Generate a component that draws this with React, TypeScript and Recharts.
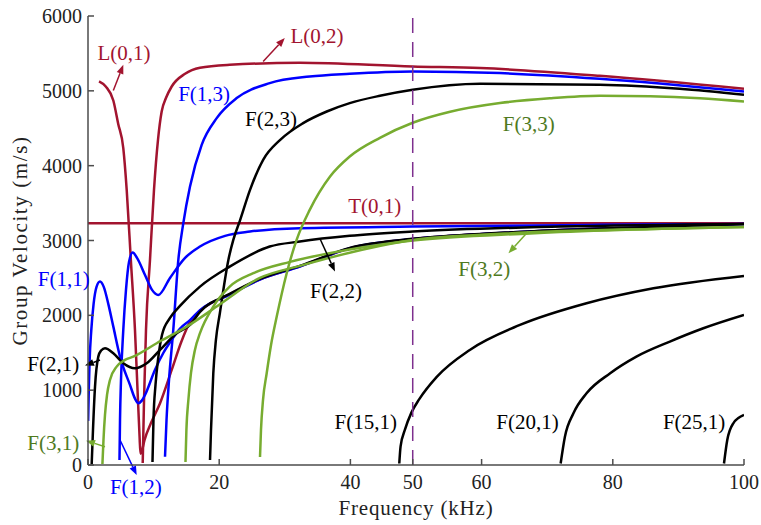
import { LineChart, Line, XAxis, YAxis, ReferenceLine, ReferenceDot } from 'recharts';

// dispersion curves, [frequency kHz, group velocity m/s]
const L01 = [[1.68, 5125], [2.74, 5054], [3.86, 4871], [4.6, 4560], [5.38, 4234], [5.9, 3677], [6.53, 2741], [7.16, 1805], [7.55, 1003], [7.85, 400], [8.0, 150], [8.15, 170], [8.6, 330], [9.6, 560], [10.98, 825], [12.76, 1270], [14.2, 1640], [15.55, 1912], [17.07, 2059], [21.6, 2280], [26.2, 2480], [32.3, 2655], [39.9, 2895], [49.5, 3018], [62.8, 3098], [72, 3140], [85.7, 3178], [100, 3220]];
const L02 = [[8.34, 27], [8.54, 869], [8.84, 1805], [9.45, 2741], [10.06, 3677], [10.67, 4345], [11.23, 4724], [11.9, 4907], [12.76, 5058], [14.8, 5228], [17.07, 5308], [21.6, 5348], [32.3, 5375], [49.5, 5325], [59.8, 5304], [78, 5200], [100, 5027]];
const T01 = [[0, 3230], [100, 3230]];
const F11 = [[0.02, 590], [0.12, 1000], [0.25, 1400], [0.5, 1800], [0.85, 2150], [1.3, 2380], [1.83, 2451], [2.4, 2380], [3.1, 2150], [3.86, 1849], [4.88, 1448], [6.4, 1070], [7.2, 880], [7.67, 825], [8.2, 860], [8.69, 936], [10.2, 1270], [11.5, 1500], [12.5, 1640], [14, 1820], [15.55, 1935], [17.07, 2070], [21.6, 2276], [26.2, 2478], [32.3, 2652], [39.9, 2898], [49.5, 3020], [62.8, 3100], [72, 3142], [85.7, 3180], [100, 3221]];
const F12 = [[4.8, 67], [4.88, 602], [5.03, 1136], [5.38, 1805], [5.79, 2340], [6.25, 2714], [6.81, 2838], [7.47, 2768], [8.69, 2540], [9.76, 2340], [10.72, 2273], [12.5, 2500], [14.8, 2768], [17.07, 2919], [20.9, 3062], [24.7, 3119], [32.3, 3165], [49.5, 3186], [78, 3209], [100, 3222]];
const F13 = [[11.74, 111], [11.97, 602], [12.35, 1136], [13.0, 1805], [13.77, 2741], [14.53, 3232], [15.55, 3721], [17.33, 4278], [19.62, 4635], [22.67, 4903], [27.7, 5103], [33.8, 5191], [39.9, 5228], [49.5, 5258], [62.8, 5237], [78, 5161], [100, 4991]];
const F21 = [[0.56, 10], [0.76, 468], [1.07, 1047], [1.57, 1448], [2.0, 1530], [2.59, 1560], [3.86, 1493], [5.38, 1360], [7.16, 1293], [8.95, 1360], [10.98, 1538], [13.52, 1761], [15.55, 1872], [17.07, 2046], [21.6, 2286], [26.2, 2487], [32.3, 2661], [39.9, 2901], [49.5, 3022], [62.8, 3102], [85.7, 3182], [100, 3222]];
const F22 = [[9.83, 40], [9.98, 602], [10.29, 1070], [10.67, 1404], [11.28, 1738], [12.5, 1965], [14.02, 2126], [17.07, 2384], [21.6, 2651], [27.7, 2919], [32.3, 2986], [39.9, 3062], [49.5, 3119], [72, 3186], [100, 3222]];
const F23 = [[18.6, 67], [18.75, 468], [19.1, 1226], [19.5, 1671], [20.1, 2028], [21.4, 2741], [22.15, 3008], [23.2, 3276], [24.7, 3677], [26.7, 4078], [29.3, 4345], [32.8, 4569], [36.4, 4724], [39.9, 4836], [44.5, 4934], [49.5, 5014], [59.8, 5094], [78, 5081], [90.2, 5027], [100, 4947]];
const F31 = [[2.2, 13], [2.36, 334], [2.59, 669], [2.9, 936], [3.35, 1136], [4.37, 1314], [5.64, 1404], [6.9, 1448], [10.47, 1627], [15.05, 1849], [19.62, 2117], [26.2, 2500], [32.3, 2661], [49.5, 3008], [62.8, 3089], [85.7, 3155], [100, 3182]];
const F32 = [[14.86, 40], [15.0, 468], [15.3, 869], [15.7, 1230], [16.3, 1538], [17.07, 1761], [19.1, 2117], [21.6, 2384], [25.2, 2563], [30.8, 2714], [39.9, 2880], [49.5, 3000], [67.4, 3095], [100, 3180]];
const F33 = [[26.22, 107], [26.37, 468], [26.68, 869], [27.24, 1226], [27.9, 1604], [28.77, 1983], [30.29, 2563], [31.8, 3008], [33.8, 3409], [36.9, 3855], [39.9, 4122], [44.5, 4372], [49.5, 4573], [55.2, 4720], [62.8, 4836], [70.4, 4900], [78, 4934], [85.7, 4927], [93.3, 4900], [100, 4857]];
const F151 = [[47.45, 20], [47.65, 250], [48.3, 468], [49.3, 700], [50.5, 880], [53.2, 1181], [58.2, 1538], [65.85, 1872], [76, 2162], [86.2, 2362], [100, 2527]];
const F201 = [[72.05, 20], [72.7, 378], [74, 691], [76, 958], [79.6, 1226], [83.6, 1448], [88.7, 1649], [93.8, 1827], [100, 2005]];
const F251 = [[96.95, 20], [97.45, 334], [98.37, 557], [100, 668]];

const X_TICKS = [0, 20, 40, 49.5, 60, 80, 100];
const Y_TICKS = [0, 1000, 2000, 3000, 4000, 5000, 6000];
const MARKER_F = 49.5;

const FONT = '"Liberation Serif", "DejaVu Serif", serif';
const RED = '#A2142F';
const BLUE = '#0000FF';
const BLACK = '#000000';
const GREEN = '#77AC30';
const GREEN_TXT = '#4E7A1E';
const PURPLE = '#7E2F8E';

const SERIES = [
  { name: 'L01', pts: L01, color: RED },
  { name: 'L02', pts: L02, color: RED },
  { name: 'T01', pts: T01, color: RED },
  { name: 'F11', pts: F11, color: BLUE },
  { name: 'F12', pts: F12, color: BLUE },
  { name: 'F13', pts: F13, color: BLUE },
  { name: 'F21', pts: F21, color: BLACK },
  { name: 'F22', pts: F22, color: BLACK },
  { name: 'F23', pts: F23, color: BLACK },
  { name: 'F31', pts: F31, color: GREEN },
  { name: 'F32', pts: F32, color: GREEN },
  { name: 'F33', pts: F33, color: GREEN },
  { name: 'F151', pts: F151, color: BLACK },
  { name: 'F201', pts: F201, color: BLACK },
  { name: 'F251', pts: F251, color: BLACK },
];

const LABELS = [
  { text: 'L(0,1)', f: 5.5, v: 5510, color: RED },
  { text: 'L(0,2)', f: 34.9, v: 5738, color: RED },
  { text: 'F(1,3)', f: 17.7, v: 4960, color: BLUE },
  { text: 'F(2,3)', f: 27.9, v: 4626, color: BLACK },
  { text: 'F(3,3)', f: 67.2, v: 4559, color: GREEN_TXT },
  { text: 'T(0,1)', f: 43.7, v: 3463, color: RED },
  { text: 'F(1,1)', f: -3.7, v: 2487, color: BLUE },
  { text: 'F(2,2)', f: 37.8, v: 2329, color: BLACK },
  { text: 'F(3,2)', f: 60.4, v: 2620, color: GREEN_TXT },
  { text: 'F(2,1)', f: -5.3, v: 1350, color: BLACK },
  { text: 'F(3,1)', f: -5.3, v: 294, color: GREEN_TXT },
  { text: 'F(1,2)', f: 7.3, v: -294, color: BLUE },
  { text: 'F(15,1)', f: 42.35, v: 575, color: BLACK },
  { text: 'F(20,1)', f: 67.0, v: 575, color: BLACK },
  { text: 'F(25,1)', f: 92.4, v: 575, color: BLACK },
];

const ARROWS = [
  { from: [3.86, 5004], to: [5.38, 5348], color: RED },
  { from: [26.7, 5392], to: [30.0, 5705], color: RED },
  { from: [35.4, 3017], to: [37.65, 2585], color: BLACK },
  { from: [67.1, 3119], to: [64.1, 2830], color: GREEN },
  { from: [1.83, 1404], to: [-0.46, 1328], color: BLACK },
  { from: [2.59, 245], to: [-0.3, 325], color: GREEN },
  { from: [4.88, 334], to: [7.42, -134], color: BLUE },
];

const toPts = (a: number[][]) => a.map(([f, v]) => ({ f, v }));

const Arrow = (props: any) => {
  const { x1, y1, x2, y2, stroke } = props;
  const ang = Math.atan2(y2 - y1, x2 - x1);
  const len = 9;
  const w = 3.5;
  const bx = x2 - len * Math.cos(ang);
  const by = y2 - len * Math.sin(ang);
  const p1 = `${bx - w * Math.sin(ang)},${by + w * Math.cos(ang)}`;
  const p2 = `${bx + w * Math.sin(ang)},${by - w * Math.cos(ang)}`;
  return (
    <g>
      <line x1={x1} y1={y1} x2={bx} y2={by} stroke={stroke} strokeWidth={1.5} />
      <polygon points={`${x2},${y2} ${p1} ${p2}`} fill={stroke} />
    </g>
  );
};

export default function App() {
  return (
    <div style={{ position: 'absolute', left: 0, top: 0, fontFamily: FONT, background: '#fff' }}>
      <LineChart width={761} height={525} margin={{ top: 16, right: 17, bottom: 0, left: 0 }} style={{ fontFamily: FONT }}>
        <XAxis
          type="number"
          dataKey="f"
          domain={[0, 100]}
          ticks={X_TICKS}
          tickFormatter={(t: number) => String(Math.round(t))}
          allowDataOverflow
          height={60}
          stroke="#4d4d4d"
          strokeWidth={1.5}
          tickSize={-6}
          tickMargin={16}
          tick={{ fill: '#222', fontSize: 20, fontFamily: FONT }}
          label={{ value: 'Frequency (kHz)', position: 'insideBottom', offset: 10, fill: '#222', fontSize: 21, fontFamily: FONT, style: { letterSpacing: '0.8px', fontFamily: FONT } }}
        />
        <YAxis
          type="number"
          domain={[0, 6000]}
          ticks={Y_TICKS}
          allowDataOverflow
          width={88}
          stroke="#4d4d4d"
          strokeWidth={1.5}
          tickSize={-6}
          tickMargin={12}
          tick={{ fill: '#222', fontSize: 20, fontFamily: FONT }}
          label={{ value: 'Group Velocity (m/s)', angle: -90, position: 'insideLeft', offset: 20, fill: '#222', fontSize: 21, fontFamily: FONT, style: { textAnchor: 'middle', letterSpacing: '1.6px', fontFamily: FONT } }}
        />
        {SERIES.map((s) => (
          <Line
            key={s.name}
            data={toPts(s.pts)}
            dataKey="v"
            type="monotoneX"
            stroke={s.color}
            strokeWidth={2.5}
            dot={false}
            activeDot={false}
            isAnimationActive={false}
          />
        ))}
        <ReferenceLine x={MARKER_F} stroke={PURPLE} strokeWidth={1.5} strokeDasharray="15 9" />
        {ARROWS.map((a, i) => (
          <ReferenceLine
            key={'a' + i}
            segment={[{ x: a.from[0], y: a.from[1] }, { x: a.to[0], y: a.to[1] }]}
            stroke={a.color}
            ifOverflow="visible"
            shape={Arrow}
          />
        ))}
        {LABELS.map((l) => (
          <ReferenceDot
            key={l.text}
            x={l.f}
            y={l.v}
            r={1}
            fill="none"
            stroke="none"
            ifOverflow="visible"
            label={{ value: l.text, position: 'center', fill: l.color, fontSize: 21, fontFamily: FONT, style: { fontFamily: FONT } }}
          />
        ))}
      </LineChart>
    </div>
  );
}
